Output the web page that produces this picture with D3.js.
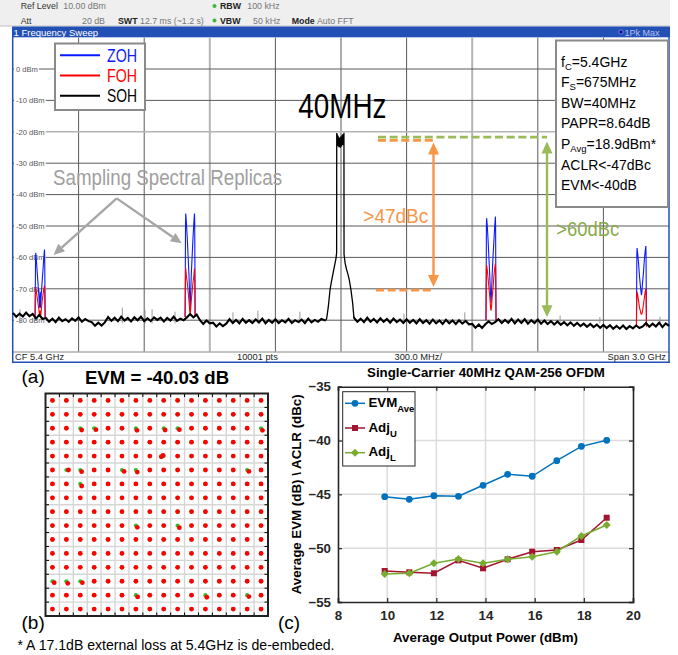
<!DOCTYPE html>
<html><head><meta charset="utf-8">
<script src="https://cdn.jsdelivr.net/npm/d3@7"></script>
<style>body{margin:0;background:#fff}svg{display:block}text{font-family:"Liberation Sans",Arial,sans-serif}</style>
</head><body><svg id="c" width="678" height="655"></svg>
<script>
// ================= DATA =================
// Spectrum (offset from CF 5.4 GHz, MHz ; level dBm)
const specYTicks = [0,-10,-20,-30,-40,-50,-60,-70,-80];
const specXDivs = [-1200,-900,-600,-300,0,300,600,900,1200];
const specLightY = [-20];
const specLightX = [-600,600];
const floorStep = 15;
const leftFloorStart = -1500;
const leftFloor = [-77.7,-78.9,-77.9,-78.8,-77.6,-78.7,-78.0,
 -79.5,-78.3,-79.6,
 -79.3,-80.5,-79.5,-80.6,-79.2,-80.3,-79.7,-80.5,-79.4,-80.2,-79.1,-80.5,-79.6,-80.3,
 -80.6,-81.8,-80.8,-81.7,-80.7,
 -79.0,-80.2,-79.2,-80.3,-78.9,-80.1,-79.3,-80.4,-79.1,-80.0,-78.9,-80.3,-79.4,-80.3,-79.1,-79.9,-79.2,-80.4,-79.3,-80.1,-78.9,-80.2,-79.5,-80.0,-79.1,
 -78.0,-79.1,-78.2,
 -80.0,-81.2,-80.1,-81.0,
 -80.8,-82.0,-81.0,-81.9,-81.1,
 -79.7,-80.9,-79.9,-81.0,-79.6,-80.8,-80.0,-80.9,-79.8,-80.7,-79.5,-81.0,-79.9,-80.8,-79.7,-80.9,-80.0,-80.7,-79.6,-80.9,-80.0,-80.6,-79.8,-80.9,-79.5,-80.7,-79.9,-80.5,-79.6,-80.0];
const mainFreq = [-70,-65.4,-58,-50.3,-42.5,-35,-27.4,-22.9,-20,
 -19.5,-18,-16.5,-15,-13.5,-12,-10.5,-9,-7.5,-6,-4.5,-3,-1.5,0,1.5,3,4.5,6,7.5,9,10.5,12,13.5,
 13.9,19,26,32,38,45.7,53.4,57,59.5];
const mainLevel = [-80.1,-79.4,-75.7,-70.4,-67.2,-64.6,-61.9,-60.3,-58.5,
 -20.4,-23.8,-20.9,-24.6,-21.3,-23.1,-22.7,-24.9,-21.8,-23.5,-22.0,-25.1,-21.5,-24.0,-22.3,-24.7,-21.1,-23.6,-20.8,-24.2,-21.4,-23.0,-20.3,
 -59.0,-61.9,-64.0,-65.4,-67.2,-70.4,-74.6,-77.5,-79.4];
const rightFloorStart = 60;
const rightFloor = [-79.3,-80.5,-79.5,-80.6,-79.2,-80.5,-79.6,-80.7,-79.4,-80.5,-79.6,-80.8,-79.5,-80.6,-79.8,-80.9,-79.7,-80.8,-79.9,-81.0,-79.7,-80.9,-80.0,-81.1,-79.8,-81.0,-80.1,-81.2,-79.9,-81.0,-80.1,-81.2,-80.0,-81.1,-80.2,-81.3,
 -81.2,-82.4,-81.4,-82.5,-81.3,
 -80.4,-81.2,-80.6,
 -79.7,-80.9,-79.9,-80.8,-79.6,-81.0,-79.8,-80.9,-79.7,-81.1,-80.0,-80.9,-79.8,-81.1,
 -80.1,-81.2,-80.3,-81.4,-80.4,-81.5,-80.6,-81.6,-80.7,-81.8,-80.9,-81.9,-81.1,-82.1,-81.2,-82.2,-81.4,-82.4,-81.5,-82.5,-81.6,-82.7,-81.8,-82.7,-81.7,-82.8,-81.9,-82.6,
 -81.7,-82.5,-82.0,
 -80.9,-82.1,-81.1,-82.0,-80.8,-82.2,-81.0,-81.8];
const replicaCenters = [-1376,-690,686,1374];
const replicaOffsets = [-23,-21,-20,-17,-13,-9,-5,-2,0,2,5,9,13,17,20,21,23];
const zohReplicas = [
 [-79,-61,-58.5,-61,-65,-69,-73,-76,-71,-76,-72,-68,-64,-60,-57.5,-60,-79],
 [-79,-49,-46,-49,-54,-60,-66,-72,-77,-73,-66,-60,-54,-49,-46,-49,-79],
 [-80,-50,-47.5,-50,-55,-61,-67,-72,-74.5,-72,-66,-60,-55,-50,-47,-50,-80],
 [-82,-59,-57,-59,-62,-66,-69,-71,-72,-71,-68,-65,-61,-58,-56.4,-59,-82]];
const fohReplicas = [
 [-79,-71,-69.5,-71,-73,-75,-77,-79,-77,-79,-77,-74,-72,-70,-69,-71,-79],
 [-79,-66,-63.5,-66,-68,-71,-74,-77,-78,-77,-74,-71,-68,-66,-63.5,-66,-79],
 [-80,-64,-62.4,-64,-67,-70,-73,-76,-77,-76,-73,-70,-66,-63.5,-62,-64,-80],
 [-82,-72,-71,-72,-74,-76,-77,-78,-78,-78,-77,-75,-73,-71,-70,-72,-82]];
const spikeFreq = [-1468,-1000,-896,-864,-759,-494,-380,-188,288,566,1002,1184,1459];
const spikeTop  = [-76.5,-76,-76.8,-76.5,-77.3,-77.5,-77,-77.3,-77.9,-77.5,-78.5,-79,-78.9];
const traceNames = ["ZOH","FOH","SOH"];
const traceColors = ["#0a1aff","#ff0000","#000000"];
const infoLines = [["f","C","=5.4GHz"],["F","S","=675MHz"],["BW=40MHz","",""],["PAPR=8.64dB","",""],["P","Avg","=18.9dBm*"],["ACLR<-47dBc","",""],["EVM<-40dB","",""]];

// Constellation (256-QAM)
const qamLevels = [-15,-13,-11,-9,-7,-5,-3,-1,1,3,5,7,9,11,13,15];
const qamGrid = [-14,-12,-10,-8,-6,-4,-2,0,2,4,6,8,10,12,14];
const symbolErrors = [[-11,11,0.2,-0.25],[-9,11,0.25,-0.2],[-3,11,0.15,-0.3],[1,11,0.2,-0.25],[3,11,0.25,-0.2],[15,11,0.2,-0.3],
 [-13,5,0.3,0],[-11,5,0.2,-0.25],[-5,5,0.3,-0.2],[-3,5,0.2,-0.3],[13,5,0.25,-0.2],[1,7,-0.35,-0.1],
 [-11,3,0.2,-0.3],[-3,-3,0.2,-0.25],[3,-3,0.25,-0.3],[-15,-11,0.25,-0.2],[-13,-11,0.2,-0.3],[-11,-11,0.3,-0.2],
 [-3,-13,0.25,-0.25],[7,-13,0.2,-0.3],[13,-13,0.25,-0.2]];

// Line chart
const powerOut = [9.9,10.9,11.9,12.9,13.9,14.9,15.9,16.9,17.9,18.93];
const evmAve = [-45.22,-45.46,-45.13,-45.18,-44.16,-43.14,-43.32,-41.87,-40.54,-39.98];
const adjU = [-52.12,-52.24,-52.33,-51.13,-51.87,-51.03,-50.33,-50.17,-49.24,-47.17];
const adjL = [-52.40,-52.33,-51.40,-51.0,-51.40,-51.03,-50.79,-50.33,-48.87,-47.85];
const lcXTicks = [8,10,12,14,16,18,20];
const lcYTicks = [-35,-40,-45,-50,-55];
const lcNames = [["EVM","Ave"],["Adj","U"],["Adj","L"]];
const lcColors = ["#0072BD","#A2142F","#77AC30"];

// ================= DRAW =================
const svg = d3.select("#c");
svg.append("rect").attr("width",678).attr("height",655).attr("fill","#fff");

// ---- header ----
svg.append("rect").attr("x",0).attr("y",0).attr("width",670).attr("height",26).attr("fill","#efefef");
svg.append("line").attr("x1",0).attr("x2",670).attr("y1",26).attr("y2",26).attr("stroke","#c0c0c0");
const hdr = [["Ref Level",20.7,9.3,"#333"],["10.00 dBm",63.3,9.3,"#777"],["RBW",220,9.3,"#222",1],["100 kHz",247.3,9.3,"#777"],
 ["Att",20.7,23.8,"#333"],["20 dB",82,23.8,"#777"],["SWT",118,23.8,"#222",1],["12.7 ms (~1.2 s)",140,23.8,"#777"],
 ["VBW",220,23.8,"#222",1],["50 kHz",253,23.8,"#777"],["Mode",291.7,23.8,"#222",1],["Auto FFT",317,23.8,"#777"]];
hdr.forEach(h=>svg.append("text").attr("x",h[1]).attr("y",h[2]).attr("fill",h[3]).attr("font-size",8.8)
  .attr("font-weight",h[4]?"bold":"normal").text(h[0]));
[6,20.5].forEach(y=>svg.append("circle").attr("cx",214.5).attr("cy",y).attr("r",2).attr("fill","#3db83d"));
svg.append("rect").attr("x",12).attr("y",26.5).attr("width",658).attr("height",10.8).attr("fill","#2350b5");
svg.append("text").attr("x",13.5).attr("y",35.6).attr("fill","#fff").attr("font-size",9.5).text("1 Frequency Sweep");
svg.append("circle").attr("cx",621).attr("cy",32).attr("r",2.2).attr("fill","#10108a").attr("stroke","#8899ff").attr("stroke-width",0.8);
svg.append("text").attr("x",624.5).attr("y",35.5).attr("fill","#b8c2ee").attr("font-size",9).text("1Pk Max");

// ---- spectrum ----
const sx = d3.scaleLinear().domain([-1500,1500]).range([13,669]);
const sy = d3.scaleLinear().domain([10,-90]).range([37.6,351.6]);
const gGrid = svg.append("g");
specXDivs.forEach(f=>{
  const light = specLightX.includes(f);
  gGrid.append("line").attr("x1",sx(f)).attr("x2",sx(f)).attr("y1",sy(10)).attr("y2",sy(-90))
   .attr("stroke",light?"#b4b4b4":"#5a5a5a").attr("stroke-width",light?2:1);
});
specYTicks.forEach(v=>{
  const light = specLightY.includes(v);
  gGrid.append("line").attr("x1",sx(-1500)).attr("x2",sx(1500)).attr("y1",sy(v)).attr("y2",sy(v))
   .attr("stroke",light?"#b4b4b4":"#5a5a5a").attr("stroke-width",light?1.6:1);
});
specYTicks.forEach(v=>{
  const t = gGrid.append("text").attr("x",16).attr("y",sy(v)+2.8).attr("font-size",7.6).attr("fill","#555").text(v+" dBm");
  const w = t.node().getComputedTextLength();
  gGrid.insert("rect","text").attr("x",14).attr("y",sy(v)-4).attr("width",w+3).attr("height",8).attr("fill","#fff");
});
// frame + bottom bar
svg.append("line").attr("x1",13).attr("x2",669).attr("y1",352).attr("y2",352).attr("stroke","#888");
const frameC = "#2350b5";
svg.append("line").attr("x1",12.7).attr("x2",12.7).attr("y1",37).attr("y2",362.5).attr("stroke",frameC).attr("stroke-width",1.5);
svg.append("line").attr("x1",669).attr("x2",669).attr("y1",37).attr("y2",362.5).attr("stroke",frameC).attr("stroke-width",1.5);
svg.append("line").attr("x1",12).attr("x2",670).attr("y1",362.3).attr("y2",362.3).attr("stroke",frameC).attr("stroke-width",1.5);
[["CF 5.4 GHz",15,"start"],["10001 pts",237,"start"],["300.0 MHz/",394.5,"start"],["Span 3.0 GHz",666,"end"]].forEach(b=>
  svg.append("text").attr("x",b[1]).attr("y",360.2).attr("text-anchor",b[2]).attr("font-size",9.3).attr("fill","#222").text(b[0]));

// traces
const line = d3.line().x(d=>sx(d[0])).y(d=>sy(d[1]));
const gTr = svg.append("g");
spikeFreq.forEach((f,i)=>gTr.append("line").attr("x1",sx(f)).attr("x2",sx(f)).attr("y1",sy(-81)).attr("y2",sy(spikeTop[i]))
  .attr("stroke","#999").attr("stroke-width",1));
replicaCenters.forEach((c,r)=>{
  gTr.append("path").attr("d",line(replicaOffsets.map((o,i)=>[c+o,zohReplicas[r][i]]))).attr("fill","none").attr("stroke",traceColors[0]).attr("stroke-width",1.1);
});
replicaCenters.forEach((c,r)=>{
  gTr.append("path").attr("d",line(replicaOffsets.map((o,i)=>[c+o,fohReplicas[r][i]]))).attr("fill","none").attr("stroke",traceColors[1]).attr("stroke-width",1.1);
});
const leftPts = leftFloor.map((v,i)=>[leftFloorStart+i*floorStep,v]);
const mainPts = mainFreq.map((f,i)=>[f,mainLevel[i]]);
const rightPts = rightFloor.map((v,i)=>[rightFloorStart+i*floorStep,v]);
gTr.append("path").attr("d",line(leftPts.concat([mainPts[0]]))).attr("fill","none").attr("stroke","#000").attr("stroke-width",2.1);
gTr.append("path").attr("d",line(mainPts)).attr("fill","none").attr("stroke","#000").attr("stroke-width",1.3);
gTr.append("path").attr("d",line([mainPts[mainPts.length-1]].concat(rightPts))).attr("fill","none").attr("stroke","#000").attr("stroke-width",2.1);

// legend box
const lg = svg.append("g");
lg.append("rect").attr("x",55).attr("y",43.5).attr("width",90).attr("height",66.5).attr("fill","#fff").attr("stroke","#8a8a8a").attr("stroke-width",2);
traceNames.forEach((n,i)=>{
  const y = 55.3 + i*20.2;
  lg.append("line").attr("x1",60).attr("x2",100).attr("y1",y).attr("y2",y).attr("stroke",traceColors[i]).attr("stroke-width",2);
  lg.append("text").attr("x",107).attr("y",y+6.3).attr("font-size",17.5).attr("fill",traceColors[i])
    .attr("textLength",30).attr("lengthAdjust","spacingAndGlyphs").text(n);
});

// info box
const ib = svg.append("g");
ib.append("rect").attr("x",556).attr("y",40.5).attr("width",112).attr("height",166.5).attr("fill","#fff").attr("stroke","#8a8a8a").attr("stroke-width",2);
infoLines.forEach((l,i)=>{
  const t = ib.append("text").attr("x",561).attr("y",66.8+i*20.55).attr("font-size",14).attr("fill","#000");
  t.append("tspan").text(l[0]);
  if(l[1]){ t.append("tspan").attr("font-size",9.5).attr("dy",3).text(l[1]); t.append("tspan").attr("dy",-3).text(l[2]); }
});

// annotations
function arrowHead(g,xt,yt,xf,yf,color,len,wid){
  const a=Math.atan2(yt-yf,xt-xf), c=Math.cos(a), s=Math.sin(a);
  const bx=xt-len*c, by=yt-len*s;
  g.append("path").attr("d",`M${xt},${yt}L${bx-wid/2*s},${by+wid/2*c}L${bx+wid/2*s},${by-wid/2*c}Z`).attr("fill",color);
  return [bx,by];
}
const an = svg.append("g");
const grayC="#a6a6a6";
const apex=[sx(-1025.8),sy(-41.2)];
[[-1314.8,-59.2],[-728.5,-55.5]].forEach(t=>{
  const tx=sx(t[0]), ty=sy(t[1]);
  const b=arrowHead(an,tx,ty,apex[0],apex[1],grayC,11,10);
  an.append("line").attr("x1",apex[0]).attr("y1",apex[1]).attr("x2",b[0]).attr("y2",b[1]).attr("stroke",grayC).attr("stroke-width",2.4);
});
an.append("text").attr("x",sx(-1317)).attr("y",sy(-36.9)).attr("font-size",22.5).attr("fill","#a0a0a0")
  .attr("textLength",229).attr("lengthAdjust","spacingAndGlyphs").text("Sampling Spectral Replicas");
an.append("text").attr("x",sx(-195)).attr("y",sy(-15.7)).attr("font-size",34.5).attr("fill","#000")
  .attr("textLength",88).attr("lengthAdjust","spacingAndGlyphs").text("40MHz");
const orC="#F79646", grC="#9BBB59";
an.append("line").attr("x1",sx(169)).attr("x2",sx(942)).attr("y1",sy(-21.7)).attr("y2",sy(-21.7)).attr("stroke",grC).attr("stroke-width",2.8).attr("stroke-dasharray","8,3.7");
an.append("line").attr("x1",sx(169)).attr("x2",sx(420.7)).attr("y1",sy(-22.7)).attr("y2",sy(-22.7)).attr("stroke",orC).attr("stroke-width",2.8).attr("stroke-dasharray","8,3.7");
an.append("line").attr("x1",sx(160)).attr("x2",sx(421)).attr("y1",sy(-70.4)).attr("y2",sy(-70.4)).attr("stroke",orC).attr("stroke-width",2.8).attr("stroke-dasharray","8,3.7");
function dblArrow(f,top,bot,color){
  const x=sx(f), y1=sy(top), y2=sy(bot);
  arrowHead(an,x,y1,x,y2,color,12,11); arrowHead(an,x,y2,x,y1,color,12,11);
  an.append("line").attr("x1",x).attr("x2",x).attr("y1",y1+11).attr("y2",y2-11).attr("stroke",color).attr("stroke-width",2.4);
}
dblArrow(423,-23.4,-69.4,orC);
dblArrow(942,-23.1,-79.1,grC);
an.append("text").attr("x",sx(102)).attr("y",sy(-49.1)).attr("font-size",20).attr("fill",orC)
  .attr("textLength",65).attr("lengthAdjust","spacingAndGlyphs").text(">47dBc");
an.append("text").attr("x",sx(984.6)).attr("y",sy(-53.1)).attr("font-size",20).attr("fill","#8aaa4a")
  .attr("textLength",63).attr("lengthAdjust","spacingAndGlyphs").text(">60dBc");

// ---- constellation ----
const cx = d3.scaleLinear().domain([-16,16]).range([45.5,268]);
const cy = d3.scaleLinear().domain([-16,16]).range([616,393.5]);
const cg = svg.append("g");
qamGrid.forEach(v=>{
  cg.append("line").attr("x1",cx(v)).attr("x2",cx(v)).attr("y1",cy(-16)).attr("y2",cy(16)).attr("stroke","#d6d6d6").attr("stroke-width",1.4);
  cg.append("line").attr("y1",cy(v)).attr("y2",cy(v)).attr("x1",cx(-16)).attr("x2",cx(16)).attr("stroke","#d6d6d6").attr("stroke-width",1.4);
});
qamGrid.forEach(v=>{
  [[cx(v),cy(16),cx(v),cy(16)+3.5],[cx(v),cy(-16),cx(v),cy(-16)-3.5],[cx(-16),cy(v),cx(-16)+3.5,cy(v)],[cx(16),cy(v),cx(16)-3.5,cy(v)]]
   .forEach(t=>cg.append("line").attr("x1",t[0]).attr("y1",t[1]).attr("x2",t[2]).attr("y2",t[3]).attr("stroke","#000").attr("stroke-width",1));
});
const errMap = new Map(symbolErrors.map(e=>[e[0]+","+e[1],[e[2],e[3]]]));
qamLevels.forEach(i=>qamLevels.forEach(q=>cg.append("circle").attr("cx",cx(i)).attr("cy",cy(q)).attr("r",2.1).attr("fill","#2cbf2c")));
qamLevels.forEach(i=>qamLevels.forEach(q=>{
  const e = errMap.get(i+","+q)||[0,0];
  cg.append("circle").attr("cx",cx(i+e[0])).attr("cy",cy(q+e[1])).attr("r",2.4).attr("fill","#ff0000");
}));
cg.append("circle").attr("cx",cx(0.9)).attr("cy",cy(7.1)).attr("r",2.4).attr("fill","#ff0000");
cg.append("rect").attr("x",cx(-16)).attr("y",cy(16)).attr("width",cx(16)-cx(-16)).attr("height",cy(-16)-cy(16))
  .attr("fill","none").attr("stroke","#222").attr("stroke-width",2);
svg.append("text").attr("x",157).attr("y",384).attr("text-anchor","middle").attr("font-size",18.6).attr("font-weight","bold").text("EVM = -40.03 dB");
[["(a)",21.5,383],["(b)",21.5,628.5],["(c)",278,628.5]].forEach(l=>svg.append("text").attr("x",l[1]).attr("y",l[2]).attr("font-size",19).text(l[0]));
svg.append("text").attr("x",17.5).attr("y",649.5).attr("font-size",14).attr("textLength",317).attr("lengthAdjust","spacingAndGlyphs")
  .text("* A 17.1dB external loss at 5.4GHz is de-embeded.");

// ---- line chart ----
const lx = d3.scaleLinear().domain([8,20]).range([338,633]);
const ly = d3.scaleLinear().domain([-55,-35]).range([602,386.7]);
const lc = svg.append("g");
lcXTicks.slice(1,-1).forEach(v=>lc.append("line").attr("x1",lx(v)).attr("x2",lx(v)).attr("y1",ly(-55)).attr("y2",ly(-35)).attr("stroke","#dcdcdc").attr("stroke-width",1.5));
lcYTicks.slice(1,-1).forEach(v=>lc.append("line").attr("y1",ly(v)).attr("y2",ly(v)).attr("x1",lx(8)).attr("x2",lx(20)).attr("stroke","#dcdcdc").attr("stroke-width",1.5));
const fontAx = g=>g.selectAll("text").attr("font-size",13.3).attr("font-weight","bold").attr("fill","#262626").attr("font-family","Liberation Sans, Arial");
lc.append("g").attr("transform",`translate(0,${ly(-55)})`).call(d3.axisBottom(lx).tickValues(lcXTicks).tickSize(-4).tickPadding(9).tickFormat(d3.format("d"))).call(fontAx);
lc.append("g").attr("transform",`translate(0,${ly(-35)})`).call(d3.axisTop(lx).tickValues(lcXTicks).tickSize(-4).tickFormat(""));
lc.append("g").attr("transform",`translate(${lx(8)},0)`).call(d3.axisLeft(ly).tickValues(lcYTicks).tickSize(-4).tickPadding(7).tickFormat(d3.format("d"))).call(fontAx);
lc.append("g").attr("transform",`translate(${lx(20)},0)`).call(d3.axisRight(ly).tickValues(lcYTicks).tickSize(-4).tickFormat(""));
lc.selectAll(".domain").attr("stroke","#262626").attr("stroke-width",1.6);
lc.selectAll(".tick line").attr("stroke","#262626").attr("stroke-width",1.2);
const series = [evmAve,adjU,adjL];
const l2 = d3.line().x((d,i)=>lx(powerOut[i])).y(d=>ly(d));
function marker(g,k,x,y){
  if(k===0) g.append("circle").attr("cx",x).attr("cy",y).attr("r",3.4).attr("fill",lcColors[0]);
  else if(k===1) g.append("rect").attr("x",x-3).attr("y",y-3).attr("width",6).attr("height",6).attr("fill",lcColors[1]);
  else g.append("path").attr("d",`M${x},${y-4}L${x+4},${y}L${x},${y+4}L${x-4},${y}Z`).attr("fill",lcColors[2]);
}
series.forEach((s,k)=>{
  lc.append("path").attr("d",l2(s)).attr("fill","none").attr("stroke",lcColors[k]).attr("stroke-width",1.5);
  s.forEach((v,i)=>marker(lc,k,lx(powerOut[i]),ly(v)));
});
// legend
lc.append("rect").attr("x",342.7).attr("y",391.7).attr("width",72.3).attr("height",74.3).attr("fill","#fff").attr("stroke","#262626").attr("stroke-width",1);
lcNames.forEach((n,k)=>{
  const y = 403.3 + k*24.7;
  lc.append("line").attr("x1",345).attr("x2",365).attr("y1",y).attr("y2",y).attr("stroke",lcColors[k]).attr("stroke-width",1.5);
  marker(lc,k,355,y);
  const t = lc.append("text").attr("x",368.5).attr("y",y+3.5).attr("font-size",13.3).attr("font-weight","bold").attr("fill","#000");
  t.append("tspan").text(n[0]);
  t.append("tspan").attr("font-size",9.5).attr("dy",5).text(n[1]);
});
lc.append("text").attr("x",486).attr("y",377).attr("text-anchor","middle").attr("font-size",13.3).attr("font-weight","bold").text("Single-Carrier 40MHz QAM-256 OFDM");
lc.append("text").attr("x",485.5).attr("y",641.5).attr("text-anchor","middle").attr("font-size",13.3).attr("font-weight","bold").text("Average Output Power (dBm)");
lc.append("text").attr("transform",`translate(301,${ly(-45)}) rotate(-90)`).attr("text-anchor","middle").attr("font-size",13.3).attr("font-weight","bold").text("Average EVM (dB) \\ ACLR (dBc)");
</script></body></html>
